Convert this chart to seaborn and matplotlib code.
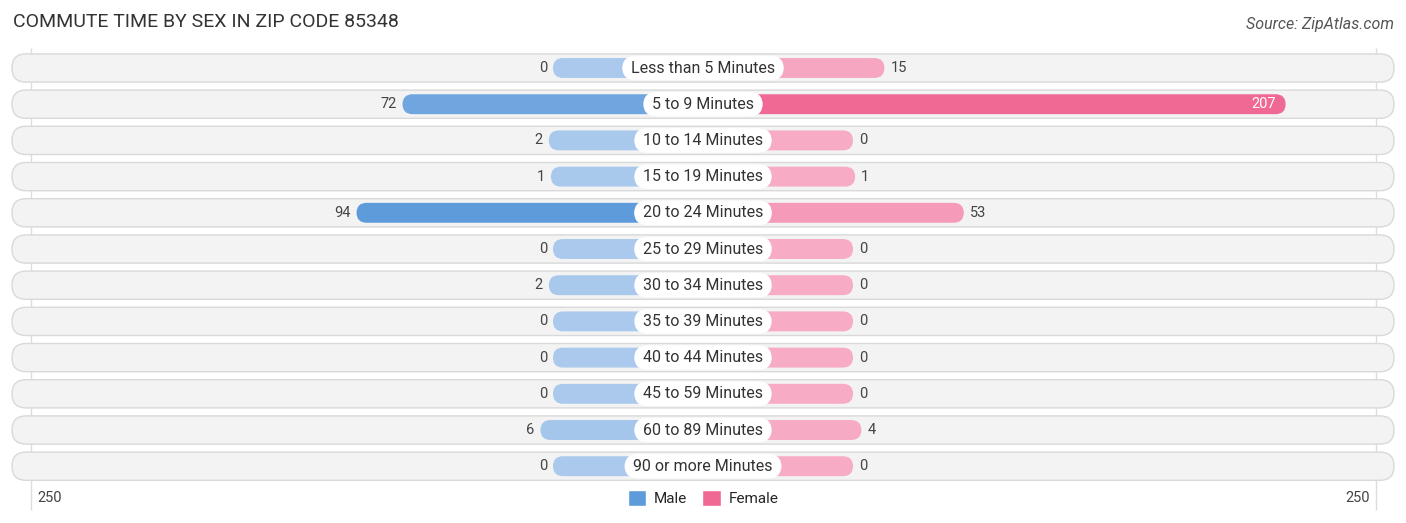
import numpy as np
import pandas as pd
import matplotlib
matplotlib.use("Agg")
import matplotlib.pyplot as plt
import matplotlib.colors as mcolors
from matplotlib.patches import FancyBboxPatch, Patch
import seaborn as sns

categories = ["Less than 5 Minutes", "5 to 9 Minutes", "10 to 14 Minutes", "15 to 19 Minutes",
              "20 to 24 Minutes", "25 to 29 Minutes", "30 to 34 Minutes", "35 to 39 Minutes",
              "40 to 44 Minutes", "45 to 59 Minutes", "60 to 89 Minutes", "90 or more Minutes"]
male = [0, 72, 2, 1, 94, 0, 2, 0, 0, 0, 6, 0]
female = [15, 207, 0, 1, 53, 0, 0, 0, 0, 0, 4, 0]
axis_max = 250

sns.set_theme(style="white")
plt.rcParams["font.family"] = ["Roboto", "DejaVu Sans"]

# layout in pixels -> data units
W, H = 1406, 523
cx = 703
px_per_unit = 2.09
offset = 150 / px_per_unit      # room for the category label
row0, row_step = 68, 36.2

df = pd.DataFrame({"cat": categories, "male": male, "female": female})
df["m_x"] = -(offset + df["male"])
df["f_x"] = offset + df["female"]

fig = plt.figure(figsize=(W / 100, H / 100), dpi=100)
ax = fig.add_axes([0, 0, 1, 1])

def blend(light, full, t):
    a = np.array(mcolors.to_rgb(light)); b = np.array(mcolors.to_rgb(full))
    return tuple(a + (b - a) * t)

m_cols = [blend("#aac9ec", "#5e9bdb", v / max(male)) for v in male]
f_cols = [blend("#f7abc4", "#f06894", v / max(female)) for v in female]

sns.barplot(data=df, x="m_x", y="cat", hue="cat", palette=m_cols, legend=False,
            orient="h", width=0.55, saturation=1, ax=ax, zorder=3)
sns.barplot(data=df, x="f_x", y="cat", hue="cat", palette=f_cols, legend=False,
            orient="h", width=0.55, saturation=1, ax=ax, zorder=3)

xl = (0 - cx) / px_per_unit
ax.set_xlim(xl, -xl)
ax.set_ylim((H - row0) / row_step, -row0 / row_step)
aspect = px_per_unit / row_step

# swap rectangles for rounded bars
for p in list(ax.patches):
    x, y, w, h = p.get_x(), p.get_y(), p.get_width(), p.get_height()
    fc = p.get_facecolor()
    p.remove()
    if w < 0:
        x, w = x + w, -w
    ax.add_patch(FancyBboxPatch((x, y), w, h, boxstyle="round,pad=0,rounding_size=4.8",
                                mutation_aspect=aspect, fc=fc, ec="none", zorder=3))

# row backgrounds
bg_l = (12 - cx) / px_per_unit
for i in range(len(categories)):
    ax.add_patch(FancyBboxPatch((bg_l, i - 0.39), -2 * bg_l, 0.78,
                                boxstyle="round,pad=0,rounding_size=6.7", mutation_aspect=aspect,
                                fc="#f3f3f3", ec="#d9d9d9", lw=1, zorder=1))

# grid lines at +-250
for s in (-1, 1):
    ax.vlines(s * (offset + axis_max), (48 - row0) / row_step, (510 - row0) / row_step,
              color="#dddddd", lw=1, zorder=0.5)

for i, (c, m, f) in enumerate(zip(categories, male, female)):
    ax.text(0, i, " " + c + " ", ha="center", va="center", fontsize=11.5, color="#333333",
            zorder=5, bbox=dict(boxstyle="round,pad=0.3,rounding_size=0.85", fc="white", ec="none"))
    ax.text(-(offset + m) - 6 / px_per_unit, i, str(m), ha="right", va="center",
            fontsize=10.5, color="#444444", zorder=4)
    if f > 150:
        ax.text(offset + f - 10 / px_per_unit, i, str(f), ha="right", va="center",
                fontsize=10.5, color="white", zorder=4)
    else:
        ax.text(offset + f + 6 / px_per_unit, i, str(f), ha="left", va="center",
                fontsize=10.5, color="#444444", zorder=4)

ax.set_axis_off()

yb = (498 - row0) / row_step
ax.text(-(offset + axis_max) + 7 / px_per_unit, yb, str(axis_max), ha="left", va="center",
        fontsize=10.5, color="#444444")
ax.text(offset + axis_max - 6 / px_per_unit, yb, str(axis_max), ha="right", va="center",
        fontsize=10.5, color="#444444")

handles = [Patch(fc="#5e9bdb", label="Male"), Patch(fc="#f06894", label="Female")]
ax.legend(handles=handles, loc="center", bbox_to_anchor=(0.5, 1 - 498 / H), ncol=2,
          frameon=False, fontsize=11, handlelength=1.2, handleheight=1.2,
          columnspacing=1.0, handletextpad=0.5)

fig.text(13 / W, 1 - 22 / H, "COMMUTE TIME BY SEX IN ZIP CODE 85348", ha="left", va="center",
         fontsize=14, color="#333333")
fig.text(1 - 12 / W, 1 - 24 / H, "Source: ZipAtlas.com", ha="right", va="center",
         fontsize=11.5, color="#555555", style="italic")

fig.savefig("out.png", dpi=100)
